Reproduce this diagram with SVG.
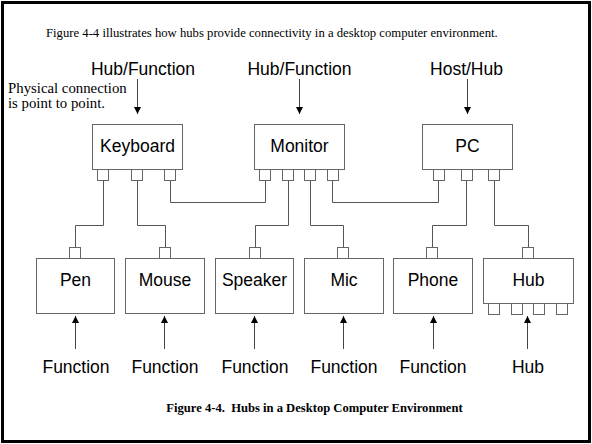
<svg xmlns="http://www.w3.org/2000/svg" width="592" height="444" viewBox="0 0 592 444">
<style>
.box{fill:#fff;stroke:#666;stroke-width:1}
.port{fill:#fff;stroke:#666;stroke-width:1}
.lbl{font-family:"Liberation Sans",Arial,sans-serif;font-size:17.5px;fill:#000;text-anchor:middle}
.ser{font-family:"Liberation Serif","Times New Roman",serif;fill:#000}
.conn{fill:none;stroke:#555;stroke-width:1}
.arr{fill:none;stroke:#444;stroke-width:1}
</style>
<defs>
<marker id="ah" markerWidth="8" markerHeight="8" refX="7" refY="3.5" orient="auto" markerUnits="userSpaceOnUse">
<path d="M0,0 L7,3.5 L0,7 Z" fill="#000"/>
</marker>
</defs>
<rect x="2.5" y="2.5" width="587" height="439" fill="#fff" stroke="#000" stroke-width="3"/>
<text class="ser" x="46" y="37" font-size="12.7">Figure 4-4 illustrates how hubs provide connectivity in a desktop computer environment.</text>
<text class="ser" x="8" y="93" font-size="14.8">Physical connection</text>
<text class="ser" x="8" y="108" font-size="14.8">is point to point.</text>
<g id="toplabels">
<text class="lbl" x="143" y="75">Hub/Function</text>
<text class="lbl" x="299.5" y="75">Hub/Function</text>
<text class="lbl" x="466.5" y="75">Host/Hub</text>
</g>
<g id="arrows">
<line class="arr" x1="137.5" y1="79" x2="137.5" y2="114" marker-end="url(#ah)"/>
<line class="arr" x1="299.5" y1="79" x2="299.5" y2="114" marker-end="url(#ah)"/>
<line class="arr" x1="467.5" y1="79" x2="467.5" y2="114" marker-end="url(#ah)"/>
<line class="arr" x1="75.5" y1="349" x2="75.5" y2="316" marker-end="url(#ah)"/>
<line class="arr" x1="164.5" y1="349" x2="164.5" y2="316" marker-end="url(#ah)"/>
<line class="arr" x1="254.5" y1="349" x2="254.5" y2="316" marker-end="url(#ah)"/>
<line class="arr" x1="343.5" y1="349" x2="343.5" y2="316" marker-end="url(#ah)"/>
<line class="arr" x1="433.5" y1="349" x2="433.5" y2="316" marker-end="url(#ah)"/>
<line class="arr" x1="527.5" y1="349" x2="527.5" y2="316" marker-end="url(#ah)"/>
</g>
<g id="connectors">
<path class="conn" d="M103.5,180 V225.5 H75.5 V248"/>
<path class="conn" d="M137.5,180 V225.5 H165.5 V248"/>
<path class="conn" d="M170.5,180 V202.5 H265.5 V180"/>
<path class="conn" d="M288.5,180 V225.5 H255.5 V248"/>
<path class="conn" d="M310.5,180 V225.5 H343.5 V248"/>
<path class="conn" d="M332.5,180 V202.5 H438.5 V180"/>
<path class="conn" d="M466.5,180 V225.5 H432.5 V248"/>
<path class="conn" d="M494.5,180 V225.5 H528.5 V248"/>
</g>
<g id="keyboard">
<rect class="box" x="92.5" y="124.5" width="90" height="45"/>
<rect class="port" x="97.5" y="169.5" width="11" height="11"/>
<rect class="port" x="131.5" y="169.5" width="11" height="11"/>
<rect class="port" x="164.5" y="169.5" width="11" height="11"/>
<text class="lbl" x="137.5" y="152">Keyboard</text>
</g>
<g id="monitor">
<rect class="box" x="254.5" y="124.5" width="90" height="45"/>
<rect class="port" x="259.5" y="169.5" width="11" height="11"/>
<rect class="port" x="282.5" y="169.5" width="11" height="11"/>
<rect class="port" x="304.5" y="169.5" width="11" height="11"/>
<rect class="port" x="327.5" y="169.5" width="11" height="11"/>
<text class="lbl" x="299.5" y="152">Monitor</text>
</g>
<g id="pc">
<rect class="box" x="422.5" y="124.5" width="90" height="45"/>
<rect class="port" x="433.5" y="169.5" width="11" height="11"/>
<rect class="port" x="461.5" y="169.5" width="11" height="11"/>
<rect class="port" x="488.5" y="169.5" width="11" height="11"/>
<text class="lbl" x="467.5" y="152">PC</text>
</g>
<g id="pen">
<rect class="box" x="36.5" y="258.5" width="78" height="55"/>
<rect class="port" x="69.5" y="247.5" width="11" height="11"/>
<text class="lbl" x="75.5" y="286">Pen</text>
</g>
<g id="mouse">
<rect class="box" x="125.5" y="258.5" width="79" height="55"/>
<rect class="port" x="159.5" y="247.5" width="11" height="11"/>
<text class="lbl" x="165" y="286">Mouse</text>
</g>
<g id="speaker">
<rect class="box" x="215.5" y="258.5" width="78" height="55"/>
<rect class="port" x="249.5" y="247.5" width="11" height="11"/>
<text class="lbl" x="254.5" y="286">Speaker</text>
</g>
<g id="mic">
<rect class="box" x="304.5" y="258.5" width="79" height="55"/>
<rect class="port" x="337.5" y="247.5" width="11" height="11"/>
<text class="lbl" x="344" y="286">Mic</text>
</g>
<g id="phone">
<rect class="box" x="393.5" y="258.5" width="79" height="55"/>
<rect class="port" x="426.5" y="247.5" width="11" height="11"/>
<text class="lbl" x="433" y="286">Phone</text>
</g>
<g id="hub">
<rect class="box" x="483.5" y="258.5" width="90" height="45"/>
<rect class="port" x="522.5" y="247.5" width="11" height="11"/>
<rect class="port" x="488.5" y="303.5" width="11" height="11"/>
<rect class="port" x="511.5" y="303.5" width="11" height="11"/>
<rect class="port" x="533.5" y="303.5" width="11" height="11"/>
<rect class="port" x="556.5" y="303.5" width="11" height="11"/>
<text class="lbl" x="528.5" y="286">Hub</text>
</g>
<g id="bottomlabels">
<text class="lbl" x="76" y="373">Function</text>
<text class="lbl" x="165" y="373">Function</text>
<text class="lbl" x="255" y="373">Function</text>
<text class="lbl" x="344" y="373">Function</text>
<text class="lbl" x="433" y="373">Function</text>
<text class="lbl" x="528" y="373">Hub</text>
</g>
<text class="ser" x="314.5" y="412" font-size="12.6" font-weight="bold" text-anchor="middle" xml:space="preserve">Figure 4-4.  Hubs in a Desktop Computer Environment</text>
</svg>
